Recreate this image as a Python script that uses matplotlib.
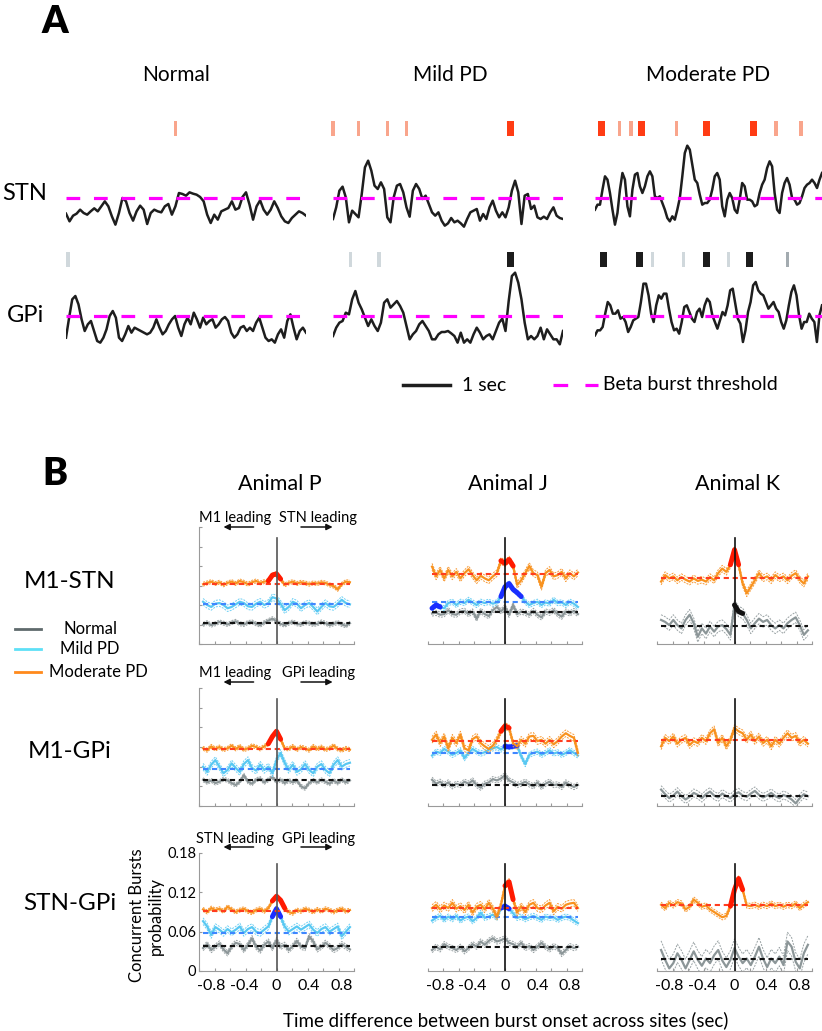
import numpy as np
import matplotlib
matplotlib.use('Agg')
import matplotlib.pyplot as plt
from matplotlib.lines import Line2D
from matplotlib.transforms import blended_transform_factory

plt.rcParams['font.family'] = ['Lato', 'DejaVu Sans']

W, H = 822, 1031

# ---------------- Panel A: beta amplitude envelopes (a.u., threshold = 100) ----------------
conditions = ['Normal', 'Mild PD', 'Moderate PD']
trace_dur = [5.1, 4.9, 4.85]   # seconds shown per condition
threshold = 100

stn_normal = [53, 30, 47, 53, 65, 55, 50, 60, 69, 60, 75, 90, 75, 45, 20, 55, 100, 90, 55, 32,
              60, 77, 65, 22, 55, 65, 60, 57, 75, 82, 50, 75, 115, 112, 107, 117, 113, 110, 103,
              90, 50, 25, 50, 35, 60, 65, 70, 90, 65, 70, 103, 117, 80, 35, 75, 93, 65, 50, 65,
              90, 70, 45, 30, 25, 40, 50, 60, 55, 47]
gpi_normal = [35, 95, 150, 160, 135, 90, 55, 75, 85, 55, 25, 20, 35, 60, 100, 115, 95, 35, 25, 45,
              70, 50, 65, 60, 55, 50, 45, 50, 65, 90, 65, 45, 55, 75, 90, 100, 65, 40, 75, 95, 75,
              110, 90, 65, 95, 75, 85, 90, 65, 75, 90, 97, 85, 50, 35, 45, 65, 70, 55, 65, 55, 80,
              95, 65, 35, 25, 30, 20, 45, 60, 35, 85, 105, 65, 30, 55, 65, 50]
stn_mild = [37, 72, 122, 134, 102, 27, 62, 52, 42, 112, 192, 212, 182, 137, 127, 147, 127, 42, 27,
            102, 137, 142, 117, 72, 44, 122, 142, 127, 97, 107, 82, 57, 47, 57, 32, 17, 24, 40, 27,
            32, 24, 14, 37, 57, 62, 67, 32, 52, 37, 72, 92, 62, 42, 57, 42, 72, 122, 152, 117, 22,
            107, 112, 67, 77, 42, 37, 44, 37, 57, 72, 47, 40, 37]
gpi_mild = [40, 65, 80, 85, 110, 105, 150, 175, 140, 120, 95, 70, 90, 70, 55, 80, 140, 150, 125, 135,
            145, 130, 110, 70, 30, 45, 55, 75, 85, 70, 55, 30, 30, 45, 52, 52, 55, 48, 40, 20, 50,
            20, 30, 20, 45, 65, 50, 30, 40, 45, 30, 55, 80, 92, 55, 145, 220, 230, 200, 150, 80, 30,
            40, 30, 40, 65, 30, 60, 45, 30, 30, 15, 55]
stn_moderate = [65, 80, 80, 125, 165, 155, 115, 65, 20, 55, 125, 175, 155, 75, 45, 125, 170, 175,
                135, 115, 135, 165, 180, 165, 105, 100, 105, 85, 65, 40, 30, 45, 35, 65, 100, 165,
                235, 257, 245, 200, 155, 145, 110, 80, 85, 85, 95, 125, 165, 175, 155, 75, 45, 95,
                115, 100, 65, 55, 95, 145, 135, 95, 95, 90, 75, 80, 115, 140, 155, 190, 210, 195,
                115, 65, 55, 115, 145, 160, 140, 100, 95, 80, 85, 105, 130, 140, 145, 155, 145,
                130, 155, 175]
gpi_moderate = [42, 57, 57, 67, 107, 142, 132, 107, 107, 117, 92, 97, 82, 52, 67, 87, 92, 97, 142,
                197, 197, 162, 107, 82, 132, 162, 152, 167, 167, 122, 82, 57, 62, 47, 82, 127, 132,
                112, 92, 82, 112, 122, 97, 132, 152, 142, 102, 82, 62, 87, 112, 102, 132, 177, 182,
                137, 92, 77, 22, 57, 112, 142, 192, 202, 177, 167, 162, 142, 122, 132, 142, 122,
                112, 82, 62, 87, 132, 172, 192, 162, 102, 62, 82, 82, 107, 92, 82, 22, 102, 132]

# burst onsets (s) and burst strength
stn_burst_t = [[2.32], [0.0, 0.55, 1.16, 1.57, 3.78],
               [0.14, 0.53, 0.77, 0.99, 1.74, 2.38, 3.38, 3.87, 4.40]]
stn_burst_k = [['weak'], ['weak', 'weak', 'weak', 'weak', 'strong'],
               ['strong', 'weak', 'weak', 'strong', 'weak', 'strong', 'strong', 'weak', 'weak']]
gpi_burst_t = [[0.04], [0.38, 0.98, 3.79],
               [0.19, 0.96, 1.23, 1.89, 2.39, 2.85, 3.30, 4.11]]
gpi_burst_k = [['weak'], ['weak', 'weak', 'strong'],
               ['strong', 'strong', 'weak', 'weak', 'strong', 'weak', 'strong', 'mid']]

# ---------------- Panel B: concurrent burst probability (per mille) ----------------
animals = ['P', 'J', 'K']
pairs = ['M1-STN', 'M1-GPi', 'STN-GPi']
lead_text = [('M1 leading', 'STN leading'), ('M1 leading', 'GPi leading'),
             ('STN leading', 'GPi leading')]

P_M1STN_norm = [30, 33, 29, 31, 34, 32, 30, 33, 35, 31, 30, 33, 34, 31, 29, 33, 36, 39, 35, 31, 29, 32, 34, 31, 30, 33, 32, 30, 31, 34, 32, 29, 31, 33, 30, 28, 32]
P_M1STN_mild = [65, 60, 57, 62, 63, 60, 55, 57, 61, 65, 63, 58, 57, 62, 65, 60, 63, 72, 70, 62, 52, 57, 65, 62, 55, 60, 63, 57, 50, 57, 63, 58, 57, 62, 68, 63, 61]
P_M1STN_mod = [92, 94, 96, 93, 95, 91, 94, 96, 93, 97, 95, 92, 95, 97, 94, 96, 97, 106, 108, 100, 91, 94, 96, 93, 95, 94, 92, 94, 93, 95, 94, 91, 89, 84, 92, 96, 95]
J_M1STN_norm = [47, 48, 45, 46, 52, 46, 45, 50, 51, 46, 50, 39, 51, 46, 43, 52, 57, 50, 57, 45, 60, 46, 50, 48, 45, 51, 45, 41, 50, 48, 52, 46, 42, 50, 47, 51, 46]
J_M1STN_mild = [55, 60, 57, 55, 63, 65, 60, 65, 63, 68, 64, 60, 65, 63, 65, 62, 64, 73, 88, 93, 84, 79, 73, 65, 60, 63, 65, 60, 64, 62, 68, 63, 64, 60, 65, 62, 57]
J_M1STN_mod = [119, 104, 114, 101, 114, 104, 111, 101, 109, 115, 106, 98, 105, 101, 98, 104, 109, 128, 124, 130, 120, 91, 98, 109, 120, 109, 106, 88, 109, 114, 104, 106, 111, 101, 109, 104, 110]
K_M1STN_norm = [37, 34, 29, 37, 29, 24, 37, 45, 32, 11, 24, 16, 27, 19, 27, 29, 23, 14, 60, 50, 47, 37, 24, 32, 39, 34, 37, 29, 24, 29, 24, 32, 37, 41, 29, 14, 21]
K_M1STN_mod = [96, 106, 101, 104, 98, 103, 99, 96, 101, 97, 99, 96, 103, 98, 109, 116, 111, 122, 145, 122, 93, 78, 88, 98, 109, 101, 104, 98, 106, 101, 104, 98, 105, 109, 99, 93, 104]

P_M1GPi_norm = [40, 36, 39, 35, 37, 41, 39, 35, 32, 37, 47, 37, 34, 40, 42, 36, 40, 44, 37, 40, 35, 39, 36, 39, 30, 27, 35, 39, 36, 40, 37, 34, 39, 35, 40, 36, 39]
P_M1GPi_mild = [60, 52, 63, 70, 60, 50, 55, 65, 58, 52, 64, 70, 58, 54, 63, 55, 60, 50, 70, 81, 66, 55, 63, 52, 56, 64, 55, 50, 60, 64, 55, 50, 63, 70, 60, 64, 66]
P_M1GPi_mod = [88, 85, 91, 87, 90, 86, 88, 92, 87, 91, 86, 88, 92, 90, 87, 91, 95, 106, 114, 102, 88, 87, 91, 86, 90, 88, 85, 91, 87, 90, 86, 88, 92, 87, 85, 88, 86]
J_M1GPi_norm = [40, 34, 37, 32, 36, 30, 34, 32, 37, 34, 39, 32, 28, 34, 36, 41, 39, 42, 47, 39, 36, 32, 34, 37, 33, 30, 36, 29, 34, 37, 32, 33, 29, 36, 32, 29, 32]
J_M1GPi_mild = [77, 83, 81, 87, 83, 78, 81, 85, 73, 81, 87, 83, 80, 82, 86, 88, 90, 86, 91, 90, 91, 92, 76, 64, 78, 81, 83, 78, 81, 85, 80, 82, 78, 81, 85, 81, 77]
J_M1GPi_mod = [101, 109, 96, 106, 88, 104, 96, 109, 88, 85, 102, 106, 96, 91, 87, 92, 101, 114, 122, 119, 96, 91, 101, 95, 106, 107, 99, 101, 95, 101, 94, 99, 106, 111, 107, 104, 81]
K_M1GPi_norm = [25, 18, 12, 16, 22, 15, 10, 14, 20, 17, 12, 18, 22, 16, 13, 19, 15, 12, 18, 21, 16, 14, 19, 23, 17, 13, 16, 20, 15, 12, 17, 14, 10, 4, 12, 18, 15]
K_M1GPi_mod = [91, 104, 99, 106, 95, 101, 104, 93, 99, 96, 104, 99, 111, 117, 96, 104, 91, 101, 119, 114, 111, 101, 109, 99, 106, 96, 101, 91, 101, 95, 104, 111, 104, 107, 96, 101, 95]

P_STNGPi_norm = [35, 41, 32, 37, 42, 33, 27, 37, 43, 41, 32, 40, 50, 37, 31, 40, 45, 35, 47, 37, 40, 32, 38, 46, 37, 35, 53, 45, 33, 37, 43, 38, 32, 35, 41, 37, 33]
P_STNGPi_mild = [76, 68, 55, 67, 63, 58, 64, 59, 63, 68, 58, 64, 67, 60, 58, 63, 68, 83, 95, 83, 68, 60, 64, 68, 63, 67, 71, 63, 58, 64, 67, 60, 64, 68, 53, 60, 67]
P_STNGPi_mod = [94, 90, 96, 93, 95, 91, 98, 94, 90, 93, 95, 91, 89, 93, 95, 91, 96, 107, 114, 108, 96, 90, 88, 93, 91, 95, 93, 90, 94, 91, 95, 93, 90, 93, 95, 91, 93]
J_STNGPi_norm = [32, 37, 33, 41, 37, 35, 32, 37, 30, 35, 41, 37, 45, 40, 46, 50, 45, 47, 50, 43, 41, 37, 43, 35, 38, 32, 37, 43, 37, 33, 38, 35, 26, 32, 38, 35, 37]
J_STNGPi_mild = [77, 81, 84, 78, 83, 79, 84, 77, 81, 83, 76, 81, 89, 81, 83, 86, 81, 96, 99, 95, 88, 81, 83, 79, 82, 84, 81, 78, 83, 81, 82, 78, 81, 83, 81, 77, 73]
J_STNGPi_mod = [96, 101, 94, 100, 96, 104, 95, 99, 93, 101, 89, 98, 101, 94, 104, 95, 83, 101, 130, 136, 109, 89, 99, 90, 101, 104, 96, 94, 100, 104, 91, 98, 95, 101, 103, 104, 96]
K_STNGPi_norm = [32, 17, 4, 12, 27, 17, 4, 17, 30, 17, 8, 19, 12, 24, 32, 16, 6, 17, 35, 22, 12, 19, 9, 22, 37, 19, 6, 19, 12, 22, 9, 45, 37, 14, 4, 27, 40]
K_STNGPi_mod = [101, 96, 104, 100, 105, 103, 94, 98, 109, 104, 98, 100, 94, 90, 86, 82, 84, 99, 124, 141, 124, 100, 99, 101, 98, 101, 99, 103, 99, 101, 98, 101, 99, 103, 96, 101, 105]

# chance level (normal, mild, moderate), per mille
chance = {
    ('P', 'M1-STN'): (32, 61, 93), ('J', 'M1-STN'): (50, 64, 107), ('K', 'M1-STN'): (28, None, 102),
    ('P', 'M1-GPi'): (39, 56, 87), ('J', 'M1-GPi'): (32, 81, 99), ('K', 'M1-GPi'): (15, None, 100),
    ('P', 'STN-GPi'): (38, 58, 91), ('J', 'STN-GPi'): (37, 82, 96), ('K', 'STN-GPi'): (18, None, 100),
}
# SEM half width (normal, mild, moderate), per mille
sem = {
    ('P', 'M1-STN'): (3, 5, 3), ('J', 'M1-STN'): (4, 4, 5), ('K', 'M1-STN'): (8, 0, 5),
    ('P', 'M1-GPi'): (3, 5, 3), ('J', 'M1-GPi'): (4, 4, 5), ('K', 'M1-GPi'): (6, 0, 5),
    ('P', 'STN-GPi'): (4, 5, 3), ('J', 'STN-GPi'): (4, 4, 5), ('K', 'STN-GPi'): (14, 0, 4),
}
# significant lag windows (s)
sig = {
    ('P', 'M1-STN'): {'mod': [(-0.1, 0.05)]},
    ('J', 'M1-STN'): {'mod': [(-0.07, 0.1)], 'mild': [(-0.06, 0.2), (-0.9, -0.8)]},
    ('K', 'M1-STN'): {'mod': [(-0.07, 0.05)], 'norm': [(-0.02, 0.1)]},
    ('P', 'M1-GPi'): {'mod': [(-0.1, 0.05)]},
    ('J', 'M1-GPi'): {'mod': [(-0.06, 0.07)], 'mild': [(0.0, 0.16)]},
    ('K', 'M1-GPi'): {},
    ('P', 'STN-GPi'): {'mod': [(-0.08, 0.1)], 'mild': [(-0.07, 0.07)]},
    ('J', 'STN-GPi'): {'mod': [(-0.04, 0.11)], 'mild': [(-0.06, 0.07)]},
    ('K', 'STN-GPi'): {'mod': [(-0.05, 0.14)]},
}
series = {
    ('P', 'M1-STN'): (P_M1STN_norm, P_M1STN_mild, P_M1STN_mod),
    ('J', 'M1-STN'): (J_M1STN_norm, J_M1STN_mild, J_M1STN_mod),
    ('K', 'M1-STN'): (K_M1STN_norm, None, K_M1STN_mod),
    ('P', 'M1-GPi'): (P_M1GPi_norm, P_M1GPi_mild, P_M1GPi_mod),
    ('J', 'M1-GPi'): (J_M1GPi_norm, J_M1GPi_mild, J_M1GPi_mod),
    ('K', 'M1-GPi'): (K_M1GPi_norm, None, K_M1GPi_mod),
    ('P', 'STN-GPi'): (P_STNGPi_norm, P_STNGPi_mild, P_STNGPi_mod),
    ('J', 'STN-GPi'): (J_STNGPi_norm, J_STNGPi_mild, J_STNGPi_mod),
    ('K', 'STN-GPi'): (K_STNGPi_norm, None, K_STNGPi_mod),
}

# styles: (trace, sem, chance line, significant)
style = {
    'norm': ('#8c9698', '#9aa3a5', '#111111', '#111111'),
    'mild': ('#58c8f2', '#6fd0f4', '#3f86ff', '#1a2eff'),
    'mod': ('#f8921e', '#f89a35', '#ff3c1e', '#ff1a00'),
}


def px_axes(fig, x0, y0, x1, y1):
    return fig.add_axes([x0 / W, 1 - y1 / H, (x1 - x0) / W, (y1 - y0) / H])


def ftext(fig, x, y, s, **kw):
    fig.text(x / W, 1 - y / H, s, **kw)


fig = plt.figure(figsize=(W / 100, H / 100), dpi=100)

# ================= Panel A =================
ftext(fig, 55, 22, 'A', fontsize=27, fontweight='heavy', ha='center', va='center')
col_px = [(66, 306), (333, 563), (595, 822)]
title_x = [176, 450, 708]
for c, name in enumerate(conditions):
    ftext(fig, title_x[c], 75, name, fontsize=15, ha='center', va='center')
ftext(fig, 25, 193, 'STN', fontsize=17, ha='center', va='center')
ftext(fig, 25, 315, 'GPi', fontsize=17, ha='center', va='center')

amp_per_px = 3.0
rows_A = [
    # (y0, y1, threshold px, tick px top, tick px bottom, traces, onsets, kinds, colours)
    (112, 232, 198, 121, 136, [stn_normal, stn_mild, stn_moderate], stn_burst_t, stn_burst_k,
     {'weak': '#f9a58c', 'strong': '#ff3c14', 'mid': '#f9a58c'}),
    (245, 352, 316, 252, 267, [gpi_normal, gpi_mild, gpi_moderate], gpi_burst_t, gpi_burst_k,
     {'weak': '#d0d8dc', 'strong': '#1c1c1c', 'mid': '#a3abb0'}),
]
burst_w = {'weak': 0.07, 'strong': 0.15, 'mid': 0.07}
axA_gpi = []
for (y0, y1, thr_px, tk0, tk1, traces, onsets, kinds, kcol) in rows_A:
    for c in range(3):
        x0, x1 = col_px[c]
        ax = px_axes(fig, x0, y0, x1, y1)
        ax.axis('off')
        amp = np.array(traces[c], dtype=float)
        t = np.linspace(0, trace_dur[c], len(amp))
        ax.plot(t, amp, color='#1e1e1e', lw=1.8, solid_joinstyle='round')
        ax.axhline(threshold, color='#ff00ff', lw=2.3, dashes=(4.3, 4.3))
        ax.set_xlim(0, trace_dur[c])
        ax.set_ylim(threshold - (y1 - thr_px) * amp_per_px,
                    threshold + (thr_px - y0) * amp_per_px)
        for ton, k in zip(onsets[c], kinds[c]):
            ax.axvspan(ton - burst_w[k] / 2, ton + burst_w[k] / 2,
                       ymin=(y1 - tk1) / (y1 - y0), ymax=(y1 - tk0) / (y1 - y0),
                       color=kcol[k], lw=0, clip_on=False)
        if y0 == 245:
            axA_gpi.append(ax)

# scale bar and threshold legend
axm = axA_gpi[1]
tr = blended_transform_factory(axm.transData, axm.transAxes)
axm.plot([1.49, 2.49], [-0.31, -0.31], color='#1e1e1e', lw=2.5, transform=tr, clip_on=False)
ftext(fig, 462, 386, '1 sec', fontsize=14, ha='left', va='center')
fig.add_artist(Line2D([553 / W, 598 / W], [1 - 385 / H, 1 - 385 / H], color='#ff00ff',
                      lw=2.3, dashes=(4.6, 5.4)))
ftext(fig, 603, 385, 'Beta burst threshold', fontsize=14, ha='left', va='center')

# ================= Panel B =================
ftext(fig, 55, 474, 'B', fontsize=27, fontweight='heavy', ha='center', va='center')
colB = [(199, 354), (428, 582), (657, 812)]
rowB = [(527, 644), (688, 806), (853, 971)]
lead_text_y = [518, 673, 839]
arrow_y = [527, 682, 847]
for c, a in enumerate(animals):
    ftext(fig, (colB[c][0] + colB[c][1]) / 2 + 3, 484, 'Animal ' + a, fontsize=15.5,
          ha='center', va='center')
row_label_y = [581, 752, 903]
for r, p in enumerate(pairs):
    ftext(fig, 70, row_label_y[r], p, fontsize=17.5, ha='center', va='center')

# legend
leg_items = [('Normal', '#5f6a6c', 629, 90), ('Mild PD', '#5ee0f7', 649, 90),
             ('Moderate PD', '#ff8a1c', 672, 98)]
for lab, col, yy, xc in leg_items:
    fig.add_artist(Line2D([15 / W, 41 / W], [1 - yy / H, 1 - yy / H], color=col, lw=2))
    ftext(fig, xc, yy, lab, fontsize=12, ha='center', va='center')

tick_pos = np.linspace(-0.95, 0.95, 11)
for r, p in enumerate(pairs):
    for c, a in enumerate(animals):
        ax = px_axes(fig, colB[c][0], rowB[r][0], colB[c][1], rowB[r][1])
        key = (a, p)
        vals = series[key]
        base = chance[key]
        half = sem[key]
        sg = sig[key]
        for i, cond in enumerate(['norm', 'mild', 'mod']):
            if vals[i] is None:
                continue
            y = np.array(vals[i]) / 1000.0
            x = np.linspace(-0.9, 0.9, len(y))
            tc, sc, bc, gc = style[cond]
            h = half[i] / 1000.0
            ax.plot(x, y + h, color=sc, lw=0.7, ls=(0, (2, 1.2)))
            ax.plot(x, y - h, color=sc, lw=0.7, ls=(0, (2, 1.2)))
            ax.plot(x, y, color=tc, lw=1.6)
            ax.plot([x[0], x[-1]], [base[i] / 1000.0] * 2, color=bc, lw=1.5,
                    ls=(0, (2.5, 1.8)))
            for lo, hi in sg.get(cond, []):
                m = (x >= lo - 1e-6) & (x <= hi + 1e-6)
                ax.plot(x[m], y[m], color=gc, lw=3.6, solid_capstyle='round',
                        solid_joinstyle='round')
        ax.axvline(0, ymax=0.91, color='#555555' if c == 0 else '#111111', lw=1.2)
        ax.set_xlim(-0.95, 0.95)
        ax.set_ylim(0, 0.18)
        ax.spines[['top', 'right']].set_visible(False)
        ax.spines['bottom'].set_color('#9a9a9a')
        ax.spines['left'].set_color('#9a9a9a')
        ax.xaxis.remove_overlapping_locs = False
        ax.set_xticks(tick_pos)
        ax.set_xticklabels([])
        ax.tick_params(axis='both', direction='in', length=2.5, width=0.8, color='#9a9a9a',
                       labelsize=11)
        if r == 2:
            ax.set_xticks([-0.8, -0.4, 0, 0.4, 0.8], minor=True)
            ax.set_xticklabels(['-0.8', '-0.4', '0', '0.4', '0.8'], minor=True)
            ax.tick_params(axis='x', which='minor', length=0, labelsize=11.5, pad=6)
        if c == 0:
            if r == 2:
                ax.set_yticks([0, 0.06, 0.12, 0.18])
                ax.set_yticklabels(['0', '0.06', '0.12', '0.18'])
                ax.tick_params(axis='y', labelsize=10.5, pad=2)
                ax.set_ylabel('Concurrent Bursts\nprobability', fontsize=12, linespacing=1.25)
                ax.yaxis.set_label_coords(-0.225, 0.47)
            else:
                ax.set_yticks(np.arange(0, 0.181, 0.03))
                ax.set_yticklabels([])
            h_ax = rowB[r][1] - rowB[r][0]
            ty = (rowB[r][1] - lead_text_y[r]) / h_ax
            ay = (rowB[r][1] - arrow_y[r]) / h_ax
            left, right = lead_text[r]
            ax.text(0.235, ty, left, transform=ax.transAxes, fontsize=10.5, ha='center',
                    va='center')
            ax.text(0.77, ty, right, transform=ax.transAxes, fontsize=10.5, ha='center',
                    va='center')
            ax.annotate('', xy=(0.14, ay), xytext=(0.37, ay), xycoords='axes fraction',
                        arrowprops=dict(arrowstyle='-|>', color='#111111', lw=1.1,
                                        mutation_scale=9))
            ax.annotate('', xy=(0.88, ay), xytext=(0.64, ay), xycoords='axes fraction',
                        arrowprops=dict(arrowstyle='-|>', color='#111111', lw=1.1,
                                        mutation_scale=9))
        else:
            ax.spines['left'].set_visible(False)
            ax.set_yticks([])

ftext(fig, 506, 1020, 'Time difference between burst onset across sites (sec)', fontsize=13.5,
      ha='center', va='center')

fig.savefig('out.png', dpi=100)
